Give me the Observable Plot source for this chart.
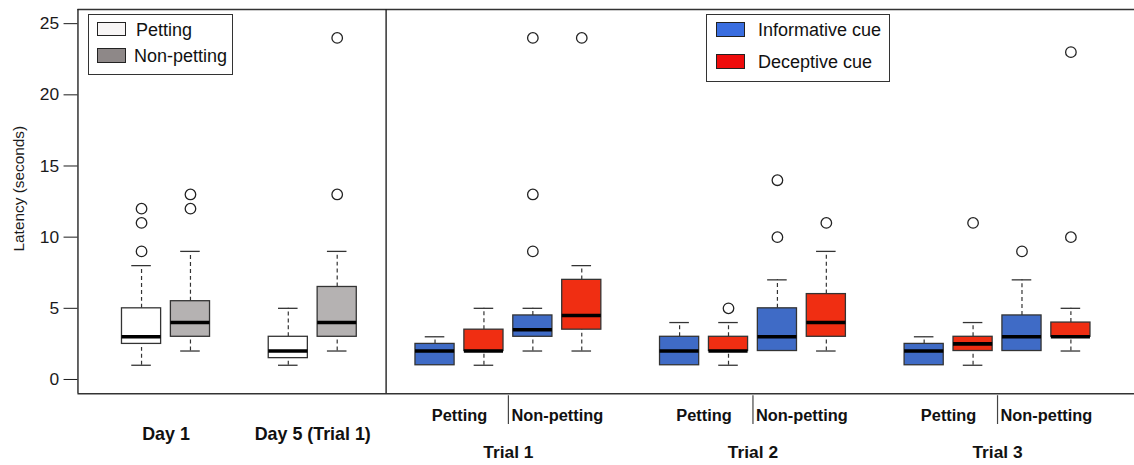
<!DOCTYPE html>
<html><head><meta charset="utf-8">
<script src="https://cdn.jsdelivr.net/npm/d3@7"></script>
<script src="https://cdn.jsdelivr.net/npm/@observablehq/plot@0.6"></script>
<style>
body{margin:0;background:#fff;font-family:"Liberation Sans",Arial,sans-serif;overflow:hidden}
#wrap{position:relative;width:1134px;height:465px;overflow:hidden}
#wrap svg{position:absolute;left:0;top:0}
.legend{position:absolute;border:1px solid #333;background:#fff;box-sizing:border-box}
.sw{position:absolute;border:1.5px solid #222;box-sizing:border-box}
.lt{position:absolute;font-size:18px;color:#111;line-height:1;transform:translateY(-50%);white-space:nowrap}
</style></head><body><div id="wrap"></div>
<script>
// ---- data ----
const groups = ["Day 1", "Day 5 (Trial 1)", "Trial 1", "Trial 2", "Trial 3"];
const conditions = ["Petting", "Non-petting"];
const cues = ["Informative cue", "Deceptive cue"];
const boxGroup = ["Day 1","Day 1","Day 5 (Trial 1)","Day 5 (Trial 1)",
  "Trial 1","Trial 1","Trial 1","Trial 1",
  "Trial 2","Trial 2","Trial 2","Trial 2",
  "Trial 3","Trial 3","Trial 3","Trial 3"];
const boxCondition = ["Petting","Non-petting","Petting","Non-petting",
  "Petting","Petting","Non-petting","Non-petting",
  "Petting","Petting","Non-petting","Non-petting",
  "Petting","Petting","Non-petting","Non-petting"];
const boxCue = ["","","","",
  "Informative cue","Deceptive cue","Informative cue","Deceptive cue",
  "Informative cue","Deceptive cue","Informative cue","Deceptive cue",
  "Informative cue","Deceptive cue","Informative cue","Deceptive cue"];
const whiskerLow  = [1, 2, 1, 2,   1, 1, 2, 2,     1, 1, 2, 2,   1, 1,   2, 2];
const quartile1   = [2.5, 3, 1.5, 3, 1, 2, 3, 3.5,  1, 2, 2, 3,   1, 2,   2, 3];
const medians     = [3, 4, 2, 4,   2, 2, 3.5, 4.5,  2, 2, 3, 4,   2, 2.5, 3, 3];
const quartile3   = [5, 5.5, 3, 6.5, 2.5, 3.5, 4.5, 7, 3, 3, 5, 6, 2.5, 3, 4.5, 4];
const whiskerHigh = [8, 9, 5, 9,   3, 5, 5, 8,     4, 4, 7, 9,   3, 4,   7, 5];
const outliers = [[9,11,12],[12,13],[],[13,24],
  [],[],[9,13,24],[24],
  [],[5],[10,14],[11],
  [],[11],[9],[10,23]];
const yTicks = [0, 5, 10, 15, 20, 25];
const yLabel = "Latency (seconds)";

// ---- layout in category slots ----
let slot = 0;
const boxes = boxGroup.map((g, i) => {
  if (i > 0 && g !== boxGroup[i - 1]) slot += 1;
  slot += 1;
  return {x: slot, group: g, cond: boxCondition[i], cue: boxCue[i],
    key: boxCue[i] || boxCondition[i],
    lo: whiskerLow[i], q1: quartile1[i], med: medians[i], q3: quartile3[i], hi: whiskerHigh[i]};
});
const outPts = boxes.flatMap((b, i) => outliers[i].map(v => ({x: b.x, y: v})));
const mean = a => a.reduce((s, v) => s + v, 0) / a.length;
const groupMid = g => mean(boxes.filter(b => b.group === g).map(b => b.x));
const dayGroups = groups.filter(g => !g.startsWith("Trial"));
const trialGroups = groups.filter(g => g.startsWith("Trial"));
const dayLabels = dayGroups.map(g => ({x: groupMid(g), text: g}));
const trialLabels = trialGroups.map(g => ({x: groupMid(g), text: g}));
const condLabels = trialGroups.flatMap(g => conditions.map(c => ({
  x: mean(boxes.filter(b => b.group === g && b.cond === c).map(b => b.x)), text: c})));
const condSeps = trialGroups.map(g => {
  const p = boxes.filter(b => b.group === g && b.cond === conditions[0]);
  const n = boxes.filter(b => b.group === g && b.cond === conditions[1]);
  return (p[p.length - 1].x + n[0].x) / 2;
});
const lastDay = boxes.filter(b => dayGroups.includes(b.group)).pop().x;
const firstTrial = boxes.find(b => trialGroups.includes(b.group)).x;
const divider = (lastDay + firstTrial) / 2;
const xDomain = [0.5 - 0.8, slot + 0.5 + 0.8];
const yDomain = [-1, 26];
const hw = 0.4, cap = 0.2;

const plot = Plot.plot({
  width: 1142, height: 465,
  marginLeft: 78, marginRight: 0, marginTop: 9, marginBottom: 69,
  style: {fontFamily: "'Liberation Sans', Arial, sans-serif", fontSize: "17.5px", color: "#1a1a1a", background: "transparent"},
  x: {domain: xDomain, axis: null},
  y: {domain: yDomain, ticks: yTicks, tickSize: 14, tickPadding: 5, label: null},
  color: {domain: ["Petting", "Non-petting", ...cues], range: ["#ffffff", "#b5b2b2", "#3f6bc6", "#f02e12"]},
  marks: [
    // whiskers
    Plot.ruleX(boxes, {x: "x", y1: "q3", y2: "hi", stroke: "#333", strokeWidth: 1.2, strokeDasharray: "4,3"}),
    Plot.ruleX(boxes.filter(b => b.lo < b.q1), {x: "x", y1: "lo", y2: "q1", stroke: "#333", strokeWidth: 1.2, strokeDasharray: "4,3"}),
    Plot.ruleY(boxes, {y: "hi", x1: d => d.x - cap, x2: d => d.x + cap, stroke: "#333", strokeWidth: 1.3}),
    Plot.ruleY(boxes.filter(b => b.lo < b.q1), {y: "lo", x1: d => d.x - cap, x2: d => d.x + cap, stroke: "#333", strokeWidth: 1.3}),
    // boxes
    Plot.rect(boxes, {x1: d => d.x - hw, x2: d => d.x + hw, y1: "q1", y2: "q3", fill: "key", stroke: "#333", strokeWidth: 1.3}),
    Plot.ruleY(boxes, {y: "med", x1: d => d.x - hw, x2: d => d.x + hw, stroke: "#000", strokeWidth: 3.6}),
    // outliers
    Plot.dot(outPts, {x: "x", y: "y", r: 5.3, stroke: "#222", strokeWidth: 1.3, fill: "none"}),
    // frame
    Plot.ruleY([yDomain[0], yDomain[1]], {stroke: "#333", strokeWidth: 1.4}),
    Plot.ruleX([xDomain[0], divider], {stroke: "#222", strokeWidth: 1.4}),
    // separators below trials
    Plot.ruleX(condSeps, {stroke: "#444", strokeWidth: 1.2, insetTop: 389, insetBottom: -31}),
    // labels
    Plot.text(condLabels, {x: "x", text: "text", frameAnchor: "bottom", lineAnchor: "middle", dy: 22, fontWeight: "bold", fontSize: "16.5px", fill: "#111"}),
    Plot.text(dayLabels, {x: "x", text: "text", frameAnchor: "bottom", lineAnchor: "middle", dy: 41, fontWeight: "bold", fontSize: "18px", fill: "#111"}),
    Plot.text(trialLabels, {x: "x", text: "text", frameAnchor: "bottom", lineAnchor: "middle", dy: 59, fontWeight: "bold", fontSize: "17.5px", fill: "#111"}),
    Plot.text([yLabel], {frameAnchor: "left", textAnchor: "middle", lineAnchor: "middle", dx: -59, dy: -13, rotate: -90, fontSize: "15.5px", fill: "#1a1a1a"})
  ]
});
const wrap = document.getElementById("wrap");
wrap.appendChild(plot);

// ---- legends ----
function legend(left, top, w, h, items) {
  const box = document.createElement("div");
  box.className = "legend";
  Object.assign(box.style, {left: left + "px", top: top + "px", width: w + "px", height: h + "px"});
  wrap.appendChild(box);
  items.forEach(it => {
    const s = document.createElement("div");
    s.className = "sw";
    Object.assign(s.style, {left: it.sx + "px", top: it.sy + "px", width: "29px", height: it.sh + "px", background: it.color});
    box.appendChild(s);
    const t = document.createElement("div");
    t.className = "lt";
    t.textContent = it.label;
    Object.assign(t.style, {left: it.tx + "px", top: it.ty + "px"});
    box.appendChild(t);
  });
}
legend(88, 14, 145, 61, [
  {label: conditions[0], color: "#f7f5f5", sx: 8, sy: 7, sh: 14, tx: 47, ty: 15},
  {label: conditions[1], color: "#8e8888", sx: 8, sy: 33, sh: 15, tx: 45, ty: 41}
]);
legend(706, 14, 184, 68, [
  {label: cues[0], color: "#3a6ee0", sx: 9, sy: 7, sh: 15, tx: 51, ty: 15},
  {label: cues[1], color: "#ee0c0c", sx: 9, sy: 39, sh: 15, tx: 51, ty: 47}
]);
</script></body></html>
